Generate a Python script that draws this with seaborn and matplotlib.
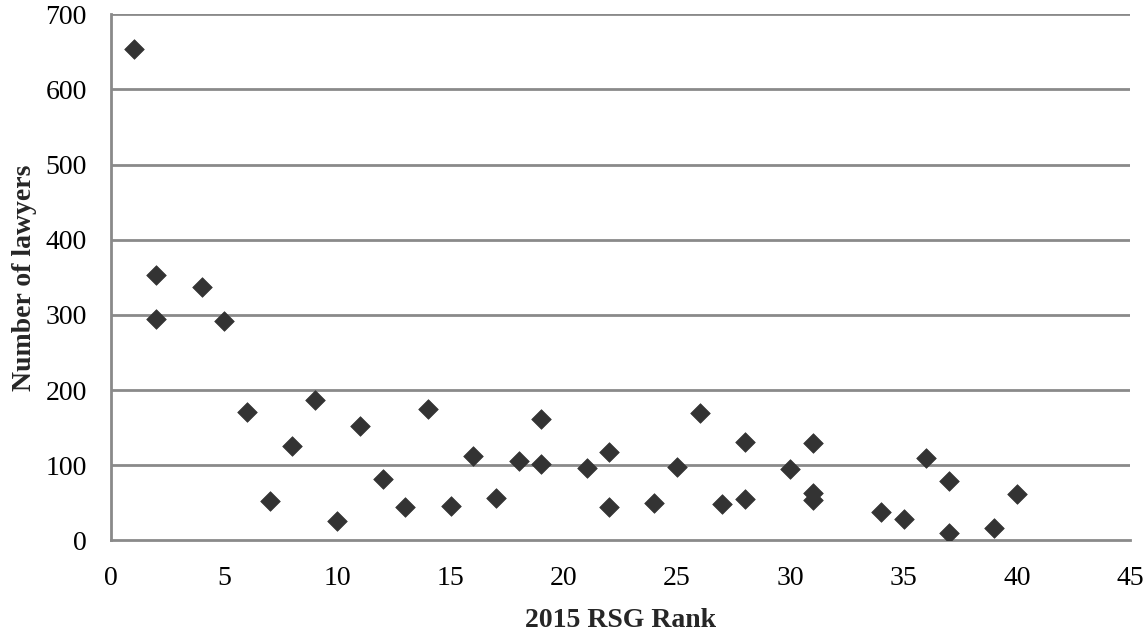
import matplotlib
matplotlib.use("Agg")
import matplotlib.pyplot as plt
import seaborn as sns
import pandas as pd

rank = [1, 2, 2, 4, 5, 6, 7, 8, 9, 10, 11, 12, 13, 14, 15, 16, 17, 18, 19, 19,
        21, 22, 22, 24, 25, 26, 27, 28, 28, 30, 31, 31, 31, 34, 35, 36, 37, 37, 39, 40]
lawyers = [654, 353, 295, 337, 292, 171, 53, 126, 187, 26, 152, 81, 45, 175, 46, 112, 56, 106, 162, 101,
           96, 117, 44, 50, 97, 170, 49, 131, 55, 95, 129, 63, 54, 38, 29, 110, 79, 10, 17, 62]

df = pd.DataFrame({"rank": rank, "lawyers": lawyers})

sns.set_style("white")
plt.rcParams['font.family'] = ['Liberation Serif', 'DejaVu Serif']

fig = plt.figure(figsize=(11.48, 6.33), dpi=100)
ax = fig.add_axes([0.0967, 0.1464, 0.8876, 0.831])

grid_c = "#8a8a8a"
for v in range(100, 701, 100):
    ax.axhline(v, color=grid_c, lw=2, zorder=0)

sns.scatterplot(data=df, x="rank", y="lawyers", marker="D", s=100,
                color="#333333", edgecolor="#333333", linewidth=0.5, ax=ax, zorder=3)

ax.set_xlim(0, 45)
ax.set_ylim(0, 700)
ax.set_xticks(range(0, 46, 5))
ax.set_yticks(range(0, 701, 100))

for s in ["top", "right"]:
    ax.spines[s].set_visible(False)
for s in ["left", "bottom"]:
    ax.spines[s].set_color(grid_c)
    ax.spines[s].set_linewidth(2)

ax.tick_params(axis="both", which="major", direction="out", length=5.8, width=2,
               color=grid_c, labelsize=20, labelcolor="black")
ax.tick_params(axis="x", pad=13)
ax.tick_params(axis="y", pad=11.5)

ax.set_xlabel("2015 RSG Rank", fontsize=20, fontweight="bold", labelpad=12)
ax.set_ylabel("Number of lawyers", fontsize=20, fontweight="bold", labelpad=6)

fig.savefig("out.png", dpi=100)
